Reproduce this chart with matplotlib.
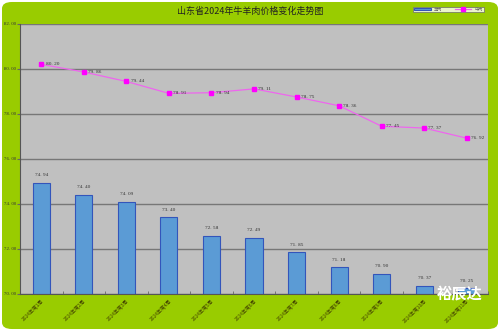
import matplotlib
matplotlib.use("Agg")
import matplotlib.pyplot as plt
from matplotlib.patches import FancyBboxPatch
import numpy as np

plt.rcParams['font.family'] = ['Noto Sans CJK SC', 'DejaVu Sans']

weeks = [f"2024年第{i}周" for i in range(1, 12)]
mutton = [74.94, 74.40, 74.09, 73.40, 72.58, 72.49, 71.85, 71.18, 70.90, 70.37, 70.25]
beef = [80.20, 79.86, 79.44, 78.91, 78.94, 79.11, 78.75, 78.36, 77.45, 77.37, 76.92]
y_ticks = [70, 72, 74, 76, 78, 80, 82]

green = "#99CC00"
fig = plt.figure(figsize=(5.0, 3.31), dpi=100)
fig.patch.set_facecolor("white")
fig.patches.append(FancyBboxPatch((0.004, 0.006), 0.992, 0.988,
                                  boxstyle="round,pad=0,rounding_size=0.02",
                                  transform=fig.transFigure, facecolor=green,
                                  edgecolor="none", zorder=-10))

ax = fig.add_axes([0.04, 0.112, 0.936, 0.816])
ax.set_facecolor("#C0C0C0")
x = np.arange(len(weeks))

ax.set_ylim(70, 82)
ax.set_xlim(-0.5, len(weeks) - 0.5)
ax.set_yticks(y_ticks)
ax.set_yticklabels([f"{v:.2f}".replace(".", ". ") for v in y_ticks],
                   fontsize=3.5, family="Liberation Serif", color="#333333")
ax.yaxis.grid(True, color="#777777", linewidth=1.0)
ax.set_axisbelow(True)

bars = ax.bar(x, [v - 70 for v in mutton], bottom=70, width=0.4,
              color="#5B9BD5", edgecolor="#3355BB", linewidth=0.8,
              label="羊肉", zorder=2)
for xi, v in zip(x, mutton):
    ax.text(xi, v + 0.25, f"{v:.2f}".replace(".", ". "), ha="center", va="bottom",
            fontsize=3.8, family="Liberation Serif", color="#333333")

ax.plot(x, beef, color="#EE66EE", linewidth=0.9, marker="s", markersize=2.5,
        markerfacecolor="#FF00FF", markeredgecolor="#FF00FF", label="牛肉", zorder=3)
for xi, v in zip(x, beef):
    ax.text(xi + 0.1, v, f"{v:.2f}".replace(".", ". "), ha="left", va="center",
            fontsize=3.8, family="Liberation Serif", color="#333333")

ax.set_xticks(x)
ax.set_xticklabels(weeks, rotation=45, ha="right", rotation_mode="anchor",
                   fontsize=3.5, color="#444400")
ax.tick_params(axis="x", length=0, pad=3)
ax.set_xticks(np.arange(len(weeks) + 1) - 0.5, minor=True)
ax.tick_params(axis="x", which="minor", length=2, direction="in", color="#666666")
ax.tick_params(axis="y", length=2, color="#666666", pad=1)

for side in ["top", "right"]:
    ax.spines[side].set_visible(False)
ax.spines["left"].set_color("#555555")
ax.spines["bottom"].set_color("#555555")

fig.text(0.5, 0.965, "山东省2024年牛羊肉价格变化走势图", ha="center", va="center",
         fontsize=6.5, color="#222222")

leg = fig.legend(handles=[bars, ax.lines[0]], labels=["羊肉", "牛肉"], ncol=2,
                 loc="center", bbox_to_anchor=(0.897, 0.971), fontsize=3,
                 frameon=True, fancybox=False, edgecolor="#666666",
                 handlelength=4, columnspacing=3, borderpad=0.2,
                 handleheight=0.5, labelcolor="#666666")
leg.get_frame().set_linewidth(0.6)

fig.text(0.92, 0.11, "裕辰达", ha="center", va="center", fontsize=11,
         fontweight="bold", color="white")

fig.savefig("out.png", dpi=100, facecolor=fig.get_facecolor())
